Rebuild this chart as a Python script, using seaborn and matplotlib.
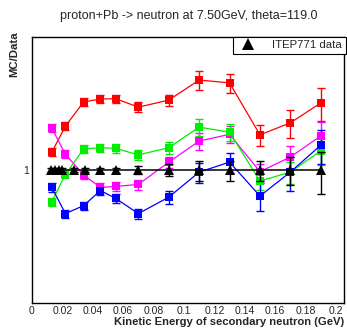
import numpy as np
import pandas as pd
import matplotlib
matplotlib.use("Agg")
import matplotlib.pyplot as plt
from matplotlib.ticker import FixedLocator, NullFormatter, FixedFormatter
from matplotlib.lines import Line2D
import seaborn as sns

# ---- data ----
mc_x = [0.013, 0.022, 0.034, 0.045, 0.055, 0.07, 0.09, 0.11, 0.13, 0.15, 0.17, 0.19]
red = [1.24, 1.70, 2.28, 2.36, 2.37, 2.14, 2.33, 2.97, 2.87, 1.53, 1.77, 2.25]
red_err = [0.05, 0.05, 0.05, 0.05, 0.05, 0.06, 0.07, 0.11, 0.12, 0.13, 0.17, 0.2]
magenta = [1.66, 1.21, 0.94, 0.81, 0.82, 0.84, 1.10, 1.42, 1.54, 0.98, 1.17, 1.51]
magenta_err = [0.05, 0.05, 0.05, 0.05, 0.05, 0.06, 0.07, 0.1, 0.1, 0.1, 0.14, 0.18]
green = [0.68, 0.95, 1.29, 1.31, 1.30, 1.20, 1.31, 1.68, 1.58, 0.875, 0.975, 1.26]
green_err = [0.05, 0.05, 0.05, 0.05, 0.05, 0.06, 0.07, 0.1, 0.1, 0.1, 0.13, 0.16]
blue = [0.81, 0.59, 0.65, 0.78, 0.71, 0.59, 0.72, 0.975, 1.10, 0.73, 0.975, 1.35]
blue_err = [0.05, 0.05, 0.05, 0.05, 0.05, 0.06, 0.08, 0.12, 0.12, 0.17, 0.2, 0.2]

data_x = [0.0125, 0.015, 0.0175, 0.02, 0.0275, 0.035, 0.045, 0.055,
          0.07, 0.09, 0.11, 0.13, 0.15, 0.17, 0.19]
data_y = [1.0] * 15
data_err = [0.02, 0.02, 0.02, 0.02, 0.02, 0.02, 0.03, 0.03,
            0.05, 0.07, 0.12, 0.12, 0.12, 0.17, 0.25]

series = {"red": (red, red_err, "#ff0000"),
          "magenta": (magenta, magenta_err, "#ff00ff"),
          "green": (green, green_err, "#00ee00"),
          "blue": (blue, blue_err, "#0000ff")}

title = "proton+Pb -> neutron at 7.50GeV, theta=119.0"
xlabel = "Kinetic Energy of secondary neutron (GeV)"
ylabel = "MC/Data"
legend_label = "ITEP771 data"

# ---- plot ----
sns.set_style("white")
plt.rcParams['font.family'] = ['Liberation Sans', 'DejaVu Sans']

fig = plt.figure(figsize=(3.47, 3.28), dpi=100)
ax = fig.add_axes([32/347, 1-303/328, 312/347, 266/328])

rows = []
for name, (vals, errs, col) in series.items():
    for x, v in zip(mc_x, vals):
        rows.append({"x": x, "y": v, "s": name})
df = pd.DataFrame(rows)
pal = {k: v[2] for k, v in series.items()}

for name, (vals, errs, col) in series.items():
    e = np.array(vals) * np.array(errs)
    ax.errorbar(mc_x, vals, yerr=e, fmt="none", ecolor=col, elinewidth=1,
                capsize=3, capthick=1, zorder=3)

sns.lineplot(data=df, x="x", y="y", hue="s", palette=pal, marker="s",
             markersize=5.6, markeredgewidth=0, linewidth=0.9, legend=False,
             ax=ax, zorder=4, sort=False)

de = np.array(data_y) * np.array(data_err)
ax.errorbar(data_x, data_y, yerr=de, fmt="none", ecolor="black",
            elinewidth=1, capsize=3, capthick=1, zorder=5)
sns.lineplot(x=data_x, y=data_y, color="black", marker="^", markersize=7,
             markeredgewidth=0, linewidth=1.1, ax=ax, zorder=6)

ax.set_yscale("log")
ax.set_xlim(0, 0.2053)
ax.set_ylim(0.2, 5)

ax.xaxis.set_major_locator(FixedLocator([0, 0.02, 0.04, 0.06, 0.08, 0.1, 0.12, 0.14, 0.16, 0.18, 0.2]))
ax.xaxis.set_major_formatter(FixedFormatter(["0", "0.02", "0.04", "0.06", "0.08", "0.1", "0.12", "0.14", "0.16", "0.18", "0.2"]))
ax.xaxis.set_minor_locator(FixedLocator(np.arange(0, 0.2051, 0.004)))
ax.yaxis.set_major_locator(FixedLocator([1]))
ax.yaxis.set_major_formatter(FixedFormatter(["1"]))
ax.yaxis.set_minor_locator(FixedLocator([0.2, 0.3, 0.4, 0.5, 0.6, 0.7, 0.8, 0.9, 2, 3, 4, 5]))
ax.yaxis.set_minor_formatter(NullFormatter())

ax.tick_params(axis="both", which="major", direction="in", length=8, width=0.8,
               labelsize=7.5, pad=2, top=False, right=False)
ax.tick_params(axis="both", which="minor", direction="in", length=4, width=0.8,
               top=False, right=False)
ax.tick_params(axis="y", which="major", length=9)
for sp in ax.spines.values():
    sp.set_linewidth(1.0)
    sp.set_color("black")

fig.text(189/347, 1-16/328, title, ha="center", va="center", fontsize=9.0)
ax.set_xlabel(xlabel, fontsize=8.1, fontweight="bold", ha="right", x=1.0, labelpad=1)
ax.set_ylabel(ylabel, fontsize=8.2, fontweight="bold", ha="right", y=1.02, labelpad=3)

h = Line2D([], [], color="black", marker="^", markersize=8, linestyle="none",
           markeredgewidth=0)
leg = ax.legend(handles=[h], labels=[legend_label], loc="upper right",
                bbox_to_anchor=(1.005, 1.0), fontsize=8.2, frameon=True,
                fancybox=False, borderaxespad=0, handlelength=2.2,
                handletextpad=1.0, borderpad=0.3, edgecolor="black")
leg.get_frame().set_linewidth(0.8)
leg.get_frame().set_alpha(1)

fig.savefig("out.png", dpi=100)
